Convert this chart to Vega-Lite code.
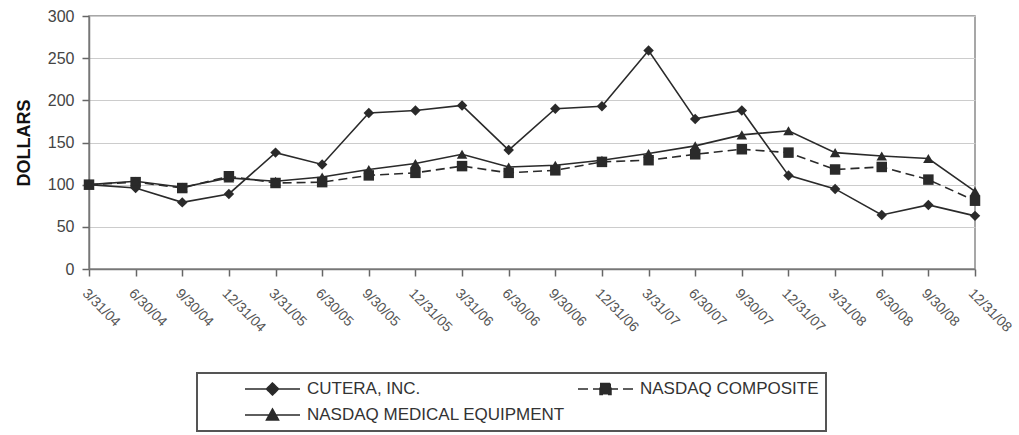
{
  "$schema": "https://vega.github.io/schema/vega-lite/v6.json",
  "autosize": "none",
  "width": 886,
  "height": 253,
  "padding": {"left": 89, "top": 16, "right": 44, "bottom": 166},
  "background": "white",
  "config": {
    "font": "Liberation Sans",
    "view": {"stroke": "#8a8a8a", "strokeWidth": 1.5},
    "axis": {"labelFont": "Liberation Sans", "titleFont": "Liberation Sans"}
  },
  "data": {
    "values": [
      {"date": "3/31/04", "series": "CUTERA, INC.", "value": 100},
      {"date": "6/30/04", "series": "CUTERA, INC.", "value": 96},
      {"date": "9/30/04", "series": "CUTERA, INC.", "value": 79},
      {"date": "12/31/04", "series": "CUTERA, INC.", "value": 89},
      {"date": "3/31/05", "series": "CUTERA, INC.", "value": 138},
      {"date": "6/30/05", "series": "CUTERA, INC.", "value": 124},
      {"date": "9/30/05", "series": "CUTERA, INC.", "value": 185},
      {"date": "12/31/05", "series": "CUTERA, INC.", "value": 188},
      {"date": "3/31/06", "series": "CUTERA, INC.", "value": 194},
      {"date": "6/30/06", "series": "CUTERA, INC.", "value": 141},
      {"date": "9/30/06", "series": "CUTERA, INC.", "value": 190},
      {"date": "12/31/06", "series": "CUTERA, INC.", "value": 193},
      {"date": "3/31/07", "series": "CUTERA, INC.", "value": 259},
      {"date": "6/30/07", "series": "CUTERA, INC.", "value": 178},
      {"date": "9/30/07", "series": "CUTERA, INC.", "value": 188},
      {"date": "12/31/07", "series": "CUTERA, INC.", "value": 111},
      {"date": "3/31/08", "series": "CUTERA, INC.", "value": 95},
      {"date": "6/30/08", "series": "CUTERA, INC.", "value": 64},
      {"date": "9/30/08", "series": "CUTERA, INC.", "value": 76},
      {"date": "12/31/08", "series": "CUTERA, INC.", "value": 63},
      {"date": "3/31/04", "series": "NASDAQ COMPOSITE", "value": 100},
      {"date": "6/30/04", "series": "NASDAQ COMPOSITE", "value": 103},
      {"date": "9/30/04", "series": "NASDAQ COMPOSITE", "value": 96},
      {"date": "12/31/04", "series": "NASDAQ COMPOSITE", "value": 110},
      {"date": "3/31/05", "series": "NASDAQ COMPOSITE", "value": 102},
      {"date": "6/30/05", "series": "NASDAQ COMPOSITE", "value": 103},
      {"date": "9/30/05", "series": "NASDAQ COMPOSITE", "value": 111},
      {"date": "12/31/05", "series": "NASDAQ COMPOSITE", "value": 114},
      {"date": "3/31/06", "series": "NASDAQ COMPOSITE", "value": 122},
      {"date": "6/30/06", "series": "NASDAQ COMPOSITE", "value": 114},
      {"date": "9/30/06", "series": "NASDAQ COMPOSITE", "value": 117},
      {"date": "12/31/06", "series": "NASDAQ COMPOSITE", "value": 127},
      {"date": "3/31/07", "series": "NASDAQ COMPOSITE", "value": 129},
      {"date": "6/30/07", "series": "NASDAQ COMPOSITE", "value": 136},
      {"date": "9/30/07", "series": "NASDAQ COMPOSITE", "value": 142},
      {"date": "12/31/07", "series": "NASDAQ COMPOSITE", "value": 138},
      {"date": "3/31/08", "series": "NASDAQ COMPOSITE", "value": 118},
      {"date": "6/30/08", "series": "NASDAQ COMPOSITE", "value": 121},
      {"date": "9/30/08", "series": "NASDAQ COMPOSITE", "value": 106},
      {"date": "12/31/08", "series": "NASDAQ COMPOSITE", "value": 81},
      {"date": "3/31/04", "series": "NASDAQ MEDICAL EQUIPMENT", "value": 100},
      {"date": "6/30/04", "series": "NASDAQ MEDICAL EQUIPMENT", "value": 104},
      {"date": "9/30/04", "series": "NASDAQ MEDICAL EQUIPMENT", "value": 97},
      {"date": "12/31/04", "series": "NASDAQ MEDICAL EQUIPMENT", "value": 108},
      {"date": "3/31/05", "series": "NASDAQ MEDICAL EQUIPMENT", "value": 104},
      {"date": "6/30/05", "series": "NASDAQ MEDICAL EQUIPMENT", "value": 109},
      {"date": "9/30/05", "series": "NASDAQ MEDICAL EQUIPMENT", "value": 118},
      {"date": "12/31/05", "series": "NASDAQ MEDICAL EQUIPMENT", "value": 125},
      {"date": "3/31/06", "series": "NASDAQ MEDICAL EQUIPMENT", "value": 136},
      {"date": "6/30/06", "series": "NASDAQ MEDICAL EQUIPMENT", "value": 121},
      {"date": "9/30/06", "series": "NASDAQ MEDICAL EQUIPMENT", "value": 123},
      {"date": "12/31/06", "series": "NASDAQ MEDICAL EQUIPMENT", "value": 129},
      {"date": "3/31/07", "series": "NASDAQ MEDICAL EQUIPMENT", "value": 137},
      {"date": "6/30/07", "series": "NASDAQ MEDICAL EQUIPMENT", "value": 146},
      {"date": "9/30/07", "series": "NASDAQ MEDICAL EQUIPMENT", "value": 159},
      {"date": "12/31/07", "series": "NASDAQ MEDICAL EQUIPMENT", "value": 164},
      {"date": "3/31/08", "series": "NASDAQ MEDICAL EQUIPMENT", "value": 138},
      {"date": "6/30/08", "series": "NASDAQ MEDICAL EQUIPMENT", "value": 134},
      {"date": "9/30/08", "series": "NASDAQ MEDICAL EQUIPMENT", "value": 131},
      {"date": "12/31/08", "series": "NASDAQ MEDICAL EQUIPMENT", "value": 92}
    ]
  },
  "encoding": {
    "x": {
      "field": "date",
      "type": "ordinal",
      "sort": null,
      "scale": {"type": "point", "padding": 0},
      "axis": {
        "title": null,
        "labelAngle": 45,
        "labelFontSize": 14,
        "labelColor": "#555555",
        "labelPadding": 10,
        "tickSize": 7,
        "tickColor": "#666666",
        "tickWidth": 1.5,
        "domainColor": "#777777",
        "domainWidth": 1.5,
        "grid": false
      }
    },
    "y": {
      "field": "value",
      "type": "quantitative",
      "scale": {"domain": [0, 300], "nice": false},
      "axis": {
        "title": "DOLLARS",
        "titleFontSize": 18,
        "titleFontWeight": "bold",
        "titleColor": "#111111",
        "titlePadding": 14,
        "values": [0, 50, 100, 150, 200, 250, 300],
        "labelFontSize": 16,
        "labelColor": "#444444",
        "labelPadding": 8,
        "tickSize": 7,
        "tickColor": "#666666",
        "tickWidth": 1.5,
        "domainColor": "#777777",
        "domainWidth": 1.5,
        "grid": true,
        "gridColor": "#cccccc",
        "gridWidth": 1.2
      }
    }
  },
  "layer": [
    {
      "transform": [{"filter": "datum.series !== 'NASDAQ COMPOSITE'"}],
      "mark": {"type": "line", "strokeWidth": 1.6},
      "encoding": {
        "color": {
          "field": "series",
          "type": "nominal",
          "scale": {"domain": ["CUTERA, INC.", "NASDAQ COMPOSITE", "NASDAQ MEDICAL EQUIPMENT"], "range": ["#2a2a2a", "#2a2a2a", "#2a2a2a"]},
          "legend": {
            "title": " ",
            "titleOrient": "left",
            "titleFontSize": 17,
            "titlePadding": 40,
            "orient": "none",
            "legendX": 108,
            "legendY": 357,
            "columns": 2,
            "direction": "horizontal",
            "padding": 7,
            "strokeColor": "#555555",
            "fillColor": "white",
            "labelFontSize": 17,
            "labelColor": "#333333",
            "labelOffset": 6,
            "labelLimit": 400,
            "rowPadding": 8,
            "columnPadding": 12,
            "clipHeight": 18,
            "symbolSize": 3025,
            "symbolStrokeWidth": 1.5,
            "encode": {
              "legend": {"update": {"strokeWidth": {"value": 2}}},
              "symbols": {
                "update": {
                  "shape": {"signal": "datum.value === 'CUTERA, INC.' ? 'M-1,0H1M0,-0.22L0.22,0L0,0.22L-0.22,0Z' : datum.value === 'NASDAQ COMPOSITE' ? 'M-1,0H1M-0.2,-0.2H0.2V0.2H-0.2Z' : 'M-1,0H1M-0.22,0.18L0,-0.22L0.22,0.18Z'"},
                  "strokeDash": {"signal": "datum.value === 'NASDAQ COMPOSITE' ? [10, 5] : [1, 0]"},
                  "fill": {"value": "#2a2a2a"},
                  "stroke": {"value": "#2a2a2a"},
                  "opacity": {"value": 1}
                }
              }
            }
          }
        }
      }
    },
    {
      "transform": [{"filter": "datum.series === 'NASDAQ COMPOSITE'"}],
      "mark": {"type": "line", "strokeWidth": 1.6, "strokeDash": [9, 5]},
      "encoding": {
        "color": {"field": "series", "type": "nominal"}
      }
    },
    {
      "mark": {"type": "point", "filled": true, "color": "#2a2a2a", "opacity": 1},
      "encoding": {
        "shape": {
          "field": "series",
          "type": "nominal",
          "scale": {"range": ["diamond", "square", "triangle-up"]},
          "legend": null
        },
        "size": {
          "field": "series",
          "type": "nominal",
          "scale": {"range": [110, 110, 120]},
          "legend": null
        }
      }
    }
  ]
}
